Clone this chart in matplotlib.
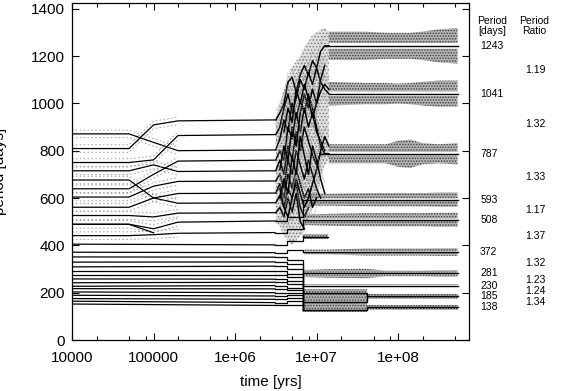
import numpy as np
import matplotlib.pyplot as plt
from matplotlib.ticker import LogLocator, FixedLocator, FixedFormatter, NullFormatter

plt.rcParams['font.family'] = ['Liberation Sans', 'DejaVu Sans']
plt.rcParams['hatch.linewidth'] = 0.7

nan = np.nan

# ---- quiet phase: knots in log10(t [yrs]) and periods [days]
t_quiet = [4.0, 4.7, 5.0, 5.3, 6.49]
quiet_top = [
    [871, 871, 835, 800, 803],
    [809, 809, 909, 926, 930],
    [750, 750, 761, 864, 868],
    [715, 715, 740, 712, 715],
    [676, 676, 600, 578, 580],
    [639, 639, 700, 756, 760],
    [604, 604, 650, 670, 672],
    [561, 561, 600, 619, 621],
    [526, 526, 520, 536, 538],
    [489, 489, 470, 498, 503],
    [441, 441, 445, 451, 454],
]
t_lost = [4.0, 4.7, 5.0]
lost = [489, 489, 453]
quiet_low_start = [405, 371, 351, 329, 309, 292, 275, 258, 242, 227, 217, 203, 189, 175, 164, 152]
quiet_low_end = [402, 369, 350, 330, 312, 292, 275, 257, 244, 230, 216, 200, 186, 172, 158, 146]
spread = 16  # dotted min/max curves around the outer planets

# ---- chaotic phase (outer planets)
t_chaos = [6.50, 6.55, 6.60, 6.65, 6.70, 6.75, 6.80, 6.85, 6.90, 6.95, 7.00, 7.05, 7.10, 7.15]
chaos = [
    [930, 960, 1000, 1090, 1110, 1050, 1120, 1160, 1120, 1180, 1150, 1220, 1243, 1243],
    [868, 900, 980, 1040, 960, 1020, 1100, 1060, 1130, 1080, 1150, 1090, 1060, 1041],
    [803, 850, 930, 880, 1000, 940, 1010, 960, 1040, 980, 900, 820, 787, 787],
    [760, 800, 760, 900, 850, 960, 880, 980, 900, 960, 880, 840, 800, nan],
    [715, 760, 700, 820, 760, 880, 800, 900, 840, 780, 740, 790, nan, nan],
    [672, 700, 640, 760, 700, 800, 740, 680, 760, 700, 640, 600, nan, nan],
    [621, 660, 600, 700, 640, 720, 660, 600, 640, 560, 600, nan, nan, nan],
    [580, 610, 560, 640, 600, 660, 560, 520, 560, nan, nan, nan, nan, nan],
    [538, 560, 520, 600, 540, 620, 500, 470, nan, nan, nan, nan, nan, nan],
    [nan, 640, 560, 520, 600, 680, 620, 560, 600, 660, 720, 800, 860, 820],
    [nan, 720, 820, 760, 900, 820, 960, 1040, 980, 1060, 1000, 1100, 1160, nan],
    [nan, nan, 880, 980, 920, 1060, 1000, 1080, 1020, 940, 1000, 1050, 1080, 1060],
    [nan, 600, 680, 620, 780, 700, 860, 780, 700, 820, 760, 680, 620, nan],
]
cloud_top = [940, 1000, 1060, 1110, 1150, 1180, 1200, 1240, 1260, 1290, 1300, 1310, 1320, 1300]
cloud_bot = [500, 480, 440, 420, 400, 420, 440, 460, 520, 560, 600, 680, 740, 760]

# ---- inner planets: staircase between 3e6 and 7e6 yrs
t_stair = [6.49, 6.64, 6.83, 6.83]
stairs = [
    [503, 520, 560, 593],
    [454, 470, 500, 508],
    [402, 420, 440, 437],
    [369, 380, 373, 372],
    [350, 340, 317, 281],
    [330, 320, 290, 260],
    [312, 300, 270, 230],
    [292, 280, 250, 230],
    [275, 265, 233, 200],
    [257, 250, 215, 200],
    [244, 235, 205, 162],
    [230, 220, 195, 162],
    [216, 210, 185, 127],
    [200, 200, 175, 127],
    [186, 190, 165, 127],
    [172, 178, 160, 127],
    [158, 165, 150, 127],
    [146, 150, 140, 127],
]

# ---- final system
final_p = [1243, 1041, 787, 593, 508, 372, 281, 230, 185, 138]
final_t0 = [7.10, 7.15, 7.05, 6.83, 6.83, 6.83, 6.83, 6.83, 7.62, 7.62]
t_end = 8.73
ratios = ['1.19', '1.32', '1.33', '1.17', '1.37', '1.32', '1.23', '1.24', '1.34']

# short-lived inner lines: (start, end, period before, period after)
transients = [
    (6.83, 7.14, 437, nan),
    (6.83, 7.62, 200, 185),
    (6.83, 7.62, 162, 185),
    (6.83, 7.62, 127, 138),
]

# scatter bands round each final period: knots and outer half widths
t_band = [6.85, 7.15, 7.6, 7.85, 8.0, 8.15, 8.3, 8.5, 8.73]
band_out = [
    [nan, 60, 60, 55, 55, 55, 60, 70, 75],
    [nan, 50, 45, 45, 42, 45, 50, 55, 55],
    [nan, 40, 40, 40, 55, 60, 45, 40, 45],
    [25, 25, 28, 28, 28, 28, 28, 30, 30],
    [22, 25, 28, 28, 28, 28, 28, 30, 30],
    [10, 10, 15, 15, 15, 15, 15, 16, 16],
    [15, 18, 20, 12, 12, 12, 12, 14, 14],
    [8, 8, 8, 8, 8, 8, 8, 8, 8],
    [nan, nan, 10, 10, 10, 10, 10, 10, 10],
    [nan, nan, 10, 10, 10, 10, 10, 10, 10],
]
band_in = [12, 10, 8, 5, 5, 3, 4, 2, 2, 2]
t_dense = [6.85, 7.62]
dense_lo = [118, 118]
dense_hi = [215, 215]

xticks = [1e4, 1e5, 1e6, 1e7, 1e8]
xticklabels = ['10000', '100000', '1e+06', '1e+07', '1e+08']
yticks = [0, 200, 400, 600, 800, 1000, 1200, 1400]

fig = plt.figure(figsize=(5.68, 3.91), dpi=100)
ax = fig.add_axes([72/568, 1-340/391, 397/568, 337/391])

def T(v):
    return 10**np.asarray(v, dtype=float)

hatch_kw = dict(facecolor='0.7', edgecolor='0.25', hatch='......', linewidth=0)

# quiet phase
for p in quiet_top:
    ax.plot(T(t_quiet), p, color='k', lw=0.9)
    ax.plot(T(t_quiet[:4]), np.array(p[:4]) + spread, color='0.6', lw=0.7, ls=(0, (1.5, 2.5)))
    ax.plot(T(t_quiet[:4]), np.array(p[:4]) - spread, color='0.6', lw=0.7, ls=(0, (1.5, 2.5)))
ax.plot(T(t_lost), lost, color='k', lw=0.9)
for p0, p1 in zip(quiet_low_start, quiet_low_end):
    ax.plot(T([4.0, 6.49]), [p0, p1], color='k', lw=0.9)

# chaos
ax.fill_between(T(t_chaos), cloud_bot, cloud_top, facecolor='0.88', edgecolor='0.5',
                hatch='.....', linewidth=0)
for p in chaos:
    p = np.array(p, dtype=float)
    ax.plot(T(t_chaos), p + 40, color='0.55', lw=0.6, ls=(0, (1, 1.5)))
    ax.plot(T(t_chaos), p - 40, color='0.55', lw=0.6, ls=(0, (1, 1.5)))
    ax.plot(T(t_chaos), p, color='k', lw=1.1)

# stairs
for s in stairs:
    ax.step(T(t_stair), s, where='post', color='k', lw=0.9)

# scatter bands
for p, w, g in zip(final_p, band_out, band_in):
    w = np.array(w, dtype=float)
    ax.fill_between(T(t_band), p + g, p + w, **hatch_kw)
    ax.fill_between(T(t_band), p - w, p - g, **hatch_kw)
ax.fill_between(T(t_dense), dense_lo, dense_hi, **hatch_kw)
ax.fill_between(T([6.83, 7.14]), [427, 427], [447, 447], **hatch_kw)

# final lines and transients
for p, t0 in zip(final_p, final_t0):
    ax.plot(T([t0, t_end]), [p, p], color='k', lw=1.0)
for t0, t1, pa, pb in transients:
    ax.plot(T([t0, t1, t1]), [pa, pa, pb], color='k', lw=1.0)

ax.set_xscale('log')
ax.set_xlim(1e4, 10**8.87)
ax.set_ylim(0, 1424)
ax.xaxis.set_major_locator(FixedLocator(xticks))
ax.xaxis.set_major_formatter(FixedFormatter(xticklabels))
ax.xaxis.set_minor_locator(LogLocator(base=10, subs=[2, 5, 8]))
ax.xaxis.set_minor_formatter(NullFormatter())
ax.set_yticks(yticks)
ax.tick_params(which='both', direction='in', top=True, right=True, labelsize=11)
ax.tick_params(axis='x', pad=8)
ax.tick_params(axis='y', pad=5)
ax.tick_params(which='major', length=5, width=0.8)
ax.tick_params(which='minor', length=3, width=0.8)
for s in ax.spines.values():
    s.set_linewidth(0.9)

ax.set_xlabel('time [yrs]', fontsize=11, labelpad=7)
ax.set_ylabel('period [days]', fontsize=11)
ax.yaxis.set_label_coords(-0.163, 0.5)

# right-hand annotations
trans = ax.get_yaxis_transform()
ax.text(1.058, 0.932, 'Period\n[days]', transform=ax.transAxes, ha='center', va='center',
        fontsize=7.5, linespacing=1.0)
ax.text(1.164, 0.932, 'Period\nRatio', transform=ax.transAxes, ha='center', va='center',
        fontsize=7.5, linespacing=1.0)
for p in final_p:
    ax.text(1.028, p, str(p), transform=trans, ha='left', va='center', fontsize=7.5)
for i, r in enumerate(ratios):
    ax.text(1.141, (final_p[i] + final_p[i+1]) / 2, r, transform=trans,
            ha='left', va='center', fontsize=7.5)

fig.savefig('out.png', dpi=100)
